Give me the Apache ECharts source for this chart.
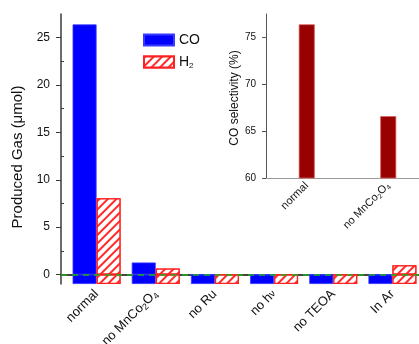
<!DOCTYPE html>
<html><head><meta charset="utf-8">
<script src="https://cdn.jsdelivr.net/npm/echarts@6/dist/echarts.min.js"></script>
<style>html,body{margin:0;padding:0;background:#fff}#c{width:419px;height:344px}</style>
</head><body><div id="c"></div>
<script>
const categories = ['normal', 'no MnCo2O4', 'no Ru', 'no hv', 'no TEOA', 'In Ar'];
const coValues = [26.4, 1.27, 0, 0, 0, 0];
const h2Values = [8.05, 0.63, 0, 0, 0, 0.98];
const yTicks = [0, 5, 10, 15, 20, 25];
const yMinorTicks = [2.5, 7.5, 12.5, 17.5, 22.5];
const insetCategories = ['normal', 'no MnCo2O4'];
const insetValues = [76.4, 66.6];
const insetTicks = [60, 65, 70, 75];
const insetMinorTicks = [62.5, 67.5, 72.5];
const yMin = -1, yMax = 27.5, insetMin = 60, insetMax = 77.5;

const FONT = 'Liberation Sans, Arial, sans-serif';
function fmt(v) {
  if (v === 'no MnCo2O4') return 'no MnCo{s|2}O{s|4}';
  if (v === 'no hv') return 'no h{nu|ν}';
  return v;
}
const base = categories.map(() => yMin);
const hatch = {symbol: 'rect', symbolSize: 1, dashArrayX: [1, 0], dashArrayY: [1.3, 4], rotation: -Math.PI / 4, color: '#ff2a2a', backgroundColor: '#ffffff'};
const coStyle = {color: '#0000ff', borderColor: '#3a3aff', borderWidth: 0.8};
const h2Style = {color: '#ffffff', borderColor: '#ff2020', borderWidth: 1.3, decal: hatch};
const frameLine = {show: true, lineStyle: {color: '#3a3a3a', width: 1.5}};

const chart = echarts.init(document.getElementById('c'), null, {renderer: 'canvas'});
chart.setOption({
  animation: false,
  aria: {enabled: false},
  textStyle: {fontFamily: FONT},
  grid: [
    {left: 61, top: 14, right: -12, bottom: 60, containLabel: false, outerBoundsMode: 'none'},
    {left: 67, top: 14, width: 355, bottom: 60, containLabel: false, outerBoundsMode: 'none'},
    {left: 266, top: 14, width: 163, bottom: 166, containLabel: false, outerBoundsMode: 'none'}
  ],
  legend: {
    data: ['CO', 'H2'], orient: 'vertical', left: 138, top: 28,
    itemWidth: 30, itemHeight: 11, itemGap: 8, icon: 'rect',
    formatter: n => n === 'H2' ? 'H{s|2}' : n,
    textStyle: {fontSize: 14, color: '#111', fontFamily: FONT, rich: {s: {fontSize: 8, padding: [8, 0, 0, 0], fontFamily: FONT}}}
  },
  xAxis: [
    {gridIndex: 0, type: 'value', min: 0, max: 1, position: 'bottom', axisLine: frameLine, axisTick: {show: false}, axisLabel: {show: false}, splitLine: {show: false}},
    {gridIndex: 0, type: 'value', min: 0, max: 1, position: 'top', axisLine: frameLine, axisTick: {show: false}, axisLabel: {show: false}, splitLine: {show: false}},
    {gridIndex: 1, type: 'category', data: categories, axisLine: {show: false}, axisTick: {show: false},
      axisLabel: {rotate: 45, fontSize: 13, margin: 8, color: '#111', fontFamily: FONT, formatter: fmt,
        rich: {s: {fontSize: 9, padding: [7, 0, 0, 0], fontFamily: FONT}, nu: {fontSize: 10, fontFamily: FONT}}}},
    {gridIndex: 2, type: 'category', data: insetCategories, axisLine: {show: true, lineStyle: {color: '#9a9a9a', width: 1}}, axisTick: {show: false},
      axisLabel: {rotate: 45, fontSize: 11, margin: 6, color: '#111', fontFamily: FONT, formatter: fmt,
        rich: {s: {fontSize: 7, padding: [6, 0, 0, 0], fontFamily: FONT}}}}
  ],
  yAxis: [
    {gridIndex: 0, type: 'value', min: yMin, max: yMax, axisLine: frameLine,
      axisTick: {show: true, customValues: yTicks, length: 5, lineStyle: {color: '#3a3a3a', width: 1}},
      axisLabel: {customValues: yTicks, fontSize: 12, margin: 11, color: '#111', fontFamily: FONT},
      splitLine: {show: false},
      name: 'Produced Gas (μmol)', nameLocation: 'middle', nameGap: 23,
      nameTextStyle: {fontSize: 15, color: '#111', fontFamily: FONT, padding: [0, 16, 0, 0]}},
    {gridIndex: 0, type: 'value', min: yMin, max: yMax, axisLine: {show: false},
      axisTick: {show: true, customValues: yMinorTicks, length: 3, lineStyle: {color: '#3a3a3a', width: 1}},
      axisLabel: {show: false}, splitLine: {show: false}},
    {gridIndex: 1, type: 'value', min: yMin, max: yMax, show: false, splitLine: {show: false}},
    {gridIndex: 2, type: 'value', min: insetMin, max: insetMax, axisLine: {show: true, lineStyle: {color: '#555', width: 1}},
      axisTick: {show: true, customValues: insetTicks, length: 4, lineStyle: {color: '#555'}},
      axisLabel: {customValues: insetTicks, fontSize: 10, margin: 10, color: '#111', fontFamily: FONT},
      splitLine: {show: false},
      name: 'CO selectivity (%)', nameLocation: 'middle', nameGap: 25,
      nameTextStyle: {fontSize: 12, color: '#111', fontFamily: FONT, padding: [0, 4, 0, 0]}},
    {gridIndex: 2, type: 'value', min: insetMin, max: insetMax, axisLine: {show: false},
      axisTick: {show: true, customValues: insetMinorTicks, length: 2.5, lineStyle: {color: '#555'}},
      axisLabel: {show: false}, splitLine: {show: false}}
  ],
  series: [
    {name: 'CO', type: 'bar', xAxisIndex: 2, yAxisIndex: 2, stack: 'co', barWidth: 24, data: coValues, itemStyle: coStyle},
    {name: 'CO base', type: 'bar', xAxisIndex: 2, yAxisIndex: 2, stack: 'co', barWidth: 24, data: base, itemStyle: coStyle},
    {name: 'H2', type: 'bar', xAxisIndex: 2, yAxisIndex: 2, stack: 'h2', barWidth: 24, data: h2Values, itemStyle: h2Style},
    {name: 'H2 base', type: 'bar', xAxisIndex: 2, yAxisIndex: 2, stack: 'h2', barWidth: 24, barGap: '0%', data: base, itemStyle: h2Style},
    {name: 'zero', type: 'line', xAxisIndex: 0, yAxisIndex: 0, data: [], z: 10,
      markLine: {silent: true, symbol: 'none', label: {show: false}, lineStyle: {color: '#20b020', type: [6, 5], width: 1.5}, data: [{yAxis: 0}]}},
    {name: 'selectivity', type: 'bar', xAxisIndex: 3, yAxisIndex: 3, barWidth: 16, data: insetValues,
      itemStyle: {color: '#990000', borderColor: '#d06060', borderWidth: 0.8}}
  ]
});
</script></body></html>
